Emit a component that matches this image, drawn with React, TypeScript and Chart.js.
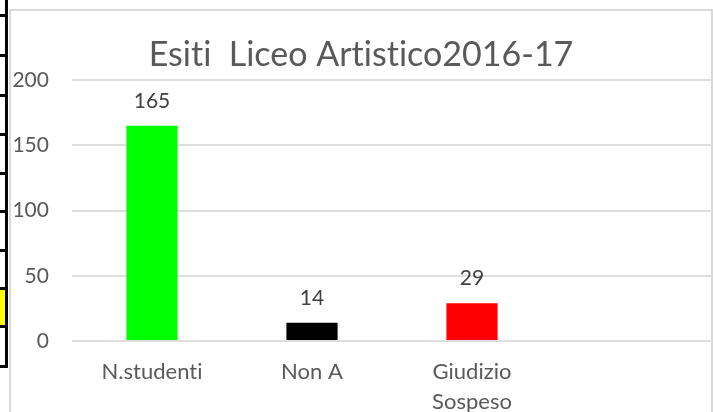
import React, { useEffect, useRef } from "react";
import { Chart, registerables } from "chart.js";

Chart.register(...registerables);

const TITLE = "Esiti  Liceo Artistico2016-17";
const categories: (string | string[])[] = ["N.studenti", "Non A", ["Giudizio", "Sospeso"], ""];
const values: (number | null)[] = [165, 14, 29, null];
const barColors = ["#00FF00", "#000000", "#FF0000", "#FFFFFF"];
const yMin = 0;
const yMax = 200;
const yStep = 50;

const FONT = "Lato, 'Liberation Sans', sans-serif";

const noLigaturePlugin = {
  id: "noLigatures",
  beforeDraw(chart: any) {
    try {
      chart.ctx.textRendering = "optimizeSpeed";
      chart.ctx.letterSpacing = "0.01px";
    } catch (e) {}
  },
};

const dataLabelPlugin = {
  id: "dataLabels",
  afterDatasetsDraw(chart: any) {
    const ctx = chart.ctx;
    const meta = chart.getDatasetMeta(0);
    ctx.save();
    ctx.font = `21px ${FONT}`;
    ctx.fillStyle = "#404040";
    ctx.textAlign = "center";
    ctx.textBaseline = "middle";
    meta.data.forEach((el: any, i: number) => {
      const v = values[i];
      if (v === null || v === undefined) return;
      ctx.fillText(String(v), el.x, el.y - 24.5);
    });
    ctx.restore();
  },
};

const hLines = [14, 54, 94, 133, 172, 210, 249, 287, 325, 365];

export default function App() {
  const ref = useRef<HTMLCanvasElement | null>(null);
  useEffect(() => {
    if (!ref.current) return;
    const chart = new Chart(ref.current, {
      type: "bar",
      data: {
        labels: categories,
        datasets: [
          {
            data: values,
            backgroundColor: barColors,
            categoryPercentage: 1,
            barPercentage: 0.32,
          },
        ],
      },
      options: {
        responsive: false,
        animation: false,
        layout: { padding: { left: 10, right: 1, top: 0, bottom: 0 } },
        plugins: {
          legend: { display: false },
          tooltip: { enabled: false },
          title: {
            display: true,
            text: TITLE,
            color: "#595959",
            font: { family: FONT, size: 34, weight: "normal", lineHeight: 1.2 },
            padding: { top: 35, bottom: 4.2 },
          },
        },
        scales: {
          x: {
            grid: { display: false, drawTicks: false },
            border: { display: false },
            ticks: {
              color: "#595959",
              padding: 16,
              maxRotation: 0,
              autoSkip: false,
              font: { family: FONT, size: 22, lineHeight: 1.36 },
            },
            afterFit: (axis: any) => {
              axis.height = 71;
            },
          },
          y: {
            min: yMin,
            max: yMax,
            grid: { color: "#dedede", lineWidth: 2, drawTicks: false },
            border: { display: false },
            ticks: {
              stepSize: yStep,
              color: "#595959",
              padding: 23,
              font: { family: FONT, size: 21 },
            },
            afterFit: (axis: any) => {
              axis.width = 62;
            },
          },
        },
      },
      plugins: [noLigaturePlugin, dataLabelPlugin],
    });
    return () => chart.destroy();
  }, []);

  return (
    <div
      style={{
        position: "absolute",
        left: 0,
        top: 0,
        width: 713,
        height: 412,
        overflow: "hidden",
        background: "#ffffff",
      }}
    >
      <div
        style={{
          position: "absolute",
          left: 9,
          top: 9,
          width: 704,
          height: 500,
          boxSizing: "border-box",
          border: "2px solid #d9d9d9",
        }}
      />
      <div style={{ position: "absolute", left: 0, top: 290, width: 5, height: 35, background: "#FFFF00" }} />
      <div style={{ position: "absolute", left: 5, top: 0, width: 3, height: 368, background: "#000" }} />
      {hLines.map((y) => (
        <div key={y} style={{ position: "absolute", left: 0, top: y, width: 8, height: 3, background: "#000" }} />
      ))}
      <canvas
        ref={ref}
        width={713}
        height={412}
        style={{ position: "absolute", left: 0, top: 0, width: 713, height: 412 }}
      />
    </div>
  );
}
